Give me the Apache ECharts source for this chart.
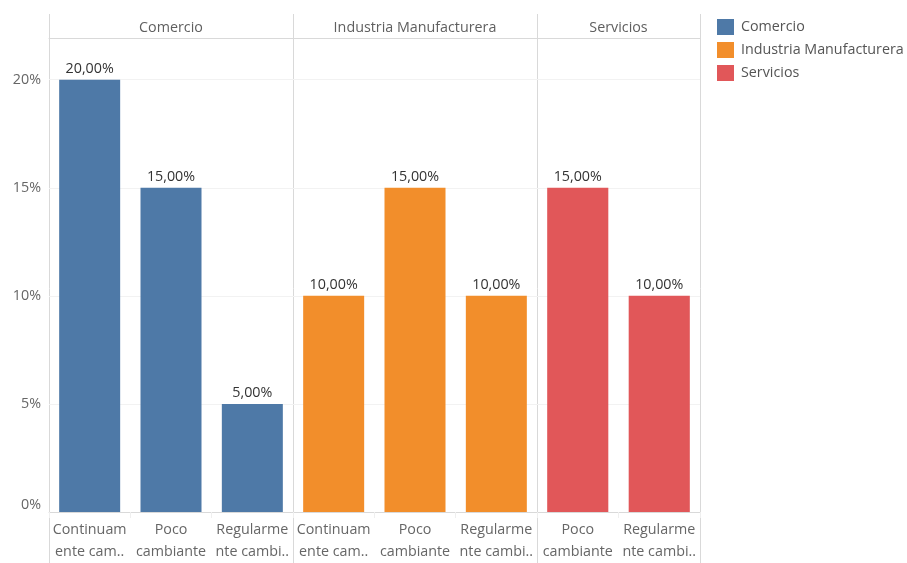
<!DOCTYPE html>
<html>
<head>
<meta charset="utf-8">
<script src="https://cdn.jsdelivr.net/npm/echarts@6/dist/echarts.min.js"></script>
<style>
  html, body { margin: 0; padding: 0; background: #fff; }
  #chart { width: 907px; height: 563px; }
</style>
</head>
<body>
<div id="chart"></div>
<script>
// Sectors (one facet per sector)
const sectors = ['Comercio', 'Industria Manufacturera', 'Servicios'];
const sectorColors = ['#4e79a7', '#f28e2b', '#e15759'];

// Categories and values (percent) per sector
const comercioCats = ['Continuamente cambiante', 'Poco cambiante', 'Regularmente cambiante'];
const comercioValues = [20, 15, 5];
const industriaCats = ['Continuamente cambiante', 'Poco cambiante', 'Regularmente cambiante'];
const industriaValues = [10, 15, 10];
const serviciosCats = ['Poco cambiante', 'Regularmente cambiante'];
const serviciosValues = [15, 10];

// Wrapped / truncated tick labels shown under each bar
const tickLabels = {
  'Continuamente cambiante': 'Continuam\nente cam..',
  'Poco cambiante': 'Poco\ncambiante',
  'Regularmente cambiante': 'Regularme\nnte cambi..'
};
const yTicks = [0, 5, 10, 15, 20];

const FONT = '"Open Sans", sans-serif';
const FS = 14.3;
const LINE = '#d9d9d9';

const facetCats = [comercioCats, industriaCats, serviciosCats];
const facetValues = [comercioValues, industriaValues, serviciosValues];
const gridsPx = [
  { left: 49, width: 244 },
  { left: 293, width: 244 },
  { left: 537, width: 163 }
];

const fmtPct = v => v.toFixed(2).replace('.', ',') + '%';

const grid = [], xAxis = [], yAxis = [], series = [];
sectors.forEach((name, i) => {
  grid.push({ left: gridsPx[i].left, width: gridsPx[i].width, top: 38, height: 480, containLabel: false });
  // bottom category axis
  xAxis.push({
    type: 'category', gridIndex: i, data: facetCats[i], position: 'bottom',
    axisLine: { show: true, lineStyle: { color: LINE, width: 1 } },
    axisTick: { show: true, length: 6, lineStyle: { color: '#efefef' } },
    axisLabel: {
      formatter: v => tickLabels[v], interval: 0, margin: 7,
      fontFamily: FONT, fontSize: FS, color: '#666', lineHeight: 22
    }
  });
  // top header axis with the facet name
  xAxis.push({
    type: 'category', gridIndex: i, data: [name], position: 'top',
    axisLine: { show: true, lineStyle: { color: LINE, width: 1 } },
    axisTick: { show: false },
    axisLabel: { margin: 3, fontFamily: FONT, fontSize: FS, color: '#5f5f5f' }
  });
  yAxis.push({
    type: 'value', gridIndex: i, min: 0, max: 21.93, interval: 5,
    axisLine: { show: false }, axisTick: { show: false },
    splitLine: { show: true, lineStyle: { color: '#f2f2f2' } },
    axisLabel: {
      show: i === 0, margin: 8, fontFamily: FONT, fontSize: FS, color: '#666',
      showMaxLabel: false,
      formatter: v => (yTicks.indexOf(v) >= 0 ? v + '%' : ''),
      verticalAlignMinLabel: 'bottom'
    }
  });
  series.push({
    name: name, type: 'bar', xAxisIndex: i * 2, yAxisIndex: i,
    data: facetValues[i], barCategoryGap: '25%',
    itemStyle: { color: sectorColors[i] },
    label: {
      show: true, position: 'top', distance: 4,
      formatter: p => fmtPct(p.value),
      fontFamily: FONT, fontSize: FS, color: '#333'
    }
  });
});

// Panel divider lines spanning header and label strips
const graphic = [49, 293, 537, 700].map(x => ({
  type: 'line', silent: true,
  shape: { x1: x + 0.5, y1: 14, x2: x + 0.5, y2: 563 },
  style: { stroke: LINE, lineWidth: 1 }
}));

const chart = echarts.init(document.getElementById('chart'), null, { renderer: 'canvas' });
chart.setOption({
  animation: false,
  grid, xAxis, yAxis, series, graphic,
  legend: {
    orient: 'vertical', left: 717, top: 19, padding: 0,
    icon: 'rect', itemWidth: 17, itemHeight: 16, itemGap: 7,
    data: sectors,
    textStyle: { fontFamily: FONT, fontSize: FS, color: '#555', padding: [0, 0, 0, 2] }
  }
});
</script>
</body>
</html>
